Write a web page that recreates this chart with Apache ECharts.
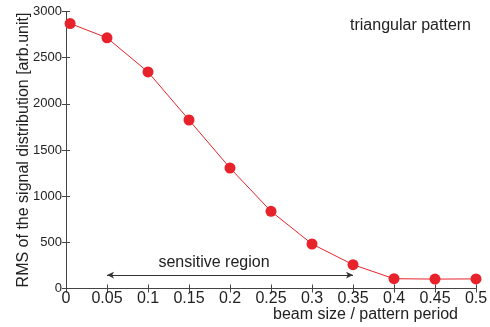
<!DOCTYPE html>
<html>
<head>
<meta charset="utf-8">
<script src="https://cdn.jsdelivr.net/npm/echarts@6/dist/echarts.min.js"></script>
<style>
  html, body { margin: 0; padding: 0; background: #fff; }
  #chart { width: 490px; height: 327px; }
</style>
</head>
<body>
<div id="chart"></div>
<script>
// beam size / pattern period
const beamSize = [0.005, 0.05, 0.1, 0.15, 0.2, 0.25, 0.3, 0.35, 0.4, 0.45, 0.5];
// RMS of the signal distribution
const rmsValues = [2870, 2715, 2345, 1825, 1305, 836, 482, 258, 106, 102, 104];
// sensitive region arrow (x range) and its height
const sensitiveRange = [0.05, 0.35];
const arrowLevel = 145;

const red = '#e8222a';
const axisColor = '#444';
const textColor = '#222';
const textFont = 'Liberation Sans, Arial, sans-serif';

const chart = echarts.init(document.getElementById('chart'));

const fmtX = (v) => String(+v.toFixed(2));
const fmtY = (v) => String(Math.round(v));

const option = {
  animation: false,
  grid: { left: 66, right: 14, top: 11.5, bottom: 38.5, containLabel: false, outerBoundsMode: 'none' },
  title: {
    text: 'triangular pattern',
    right: 14,
    top: 13,
    textStyle: { fontFamily: textFont, fontWeight: 'normal', fontSize: 16, color: textColor }
  },
  xAxis: [
    {
      type: 'value',
      min: 0,
      max: 0.5,
      interval: 0.05,
      name: 'beam size / pattern period',
      nameLocation: 'end',
      nameGap: 0,
      nameMoveOverlap: false,
      nameTextStyle: {
        fontFamily: textFont, fontSize: 16, color: textColor,
        align: 'right', verticalAlign: 'top', padding: [18, 18, 0, 0]
      },
      axisLine: { lineStyle: { color: axisColor, width: 1 } },
      axisTick: { inside: true, length: 4, lineStyle: { color: axisColor } },
      axisLabel: { formatter: fmtX, fontFamily: textFont, fontSize: 16, color: textColor, margin: 2 },
      splitLine: { show: false }
    },
    {
      type: 'value',
      position: 'top',
      min: 0,
      max: 0.5,
      interval: 0.05,
      axisLine: { lineStyle: { color: axisColor, width: 1 } },
      axisTick: { inside: true, length: 4, lineStyle: { color: axisColor } },
      axisLabel: { show: false },
      splitLine: { show: false }
    }
  ],
  yAxis: [
    {
      type: 'value',
      min: 0,
      max: 3000,
      interval: 500,
      name: 'RMS of the signal distribution [arb.unit]',
      nameLocation: 'middle',
      nameGap: 34,
      nameMoveOverlap: false,
      nameTextStyle: { fontFamily: textFont, fontSize: 16, color: textColor },
      axisLine: { show: true, lineStyle: { color: axisColor, width: 1 } },
      axisTick: { show: true, inside: true, length: 4, lineStyle: { color: axisColor } },
      axisLabel: { formatter: fmtY, fontFamily: textFont, fontSize: 13, color: textColor, margin: 4 },
      splitLine: { show: false }
    },
    {
      type: 'value',
      position: 'right',
      min: 0,
      max: 3000,
      interval: 500,
      axisLine: { show: true, lineStyle: { color: axisColor, width: 1 } },
      axisTick: { show: true, inside: true, length: 4, lineStyle: { color: axisColor } },
      axisLabel: { show: false },
      splitLine: { show: false }
    }
  ],
  series: [
    {
      type: 'line',
      xAxisIndex: 0,
      yAxisIndex: 0,
      data: beamSize.map((x, i) => [x, rmsValues[i]]),
      symbol: 'circle',
      symbolSize: 11,
      lineStyle: { color: red, width: 1 },
      itemStyle: { color: red },
      z: 3,
      markLine: {
        silent: true,
        symbol: ['arrow', 'arrow'],
        symbolSize: [5, 7],
        lineStyle: { color: '#333', width: 1, type: 'solid' },
        label: {
          show: true,
          position: 'middle',
          formatter: 'sensitive region',
          fontFamily: textFont,
          fontSize: 16,
          color: textColor,
          distance: 5,
          offset: [-16, 0]
        },
        data: [[
          { coord: [sensitiveRange[0], arrowLevel] },
          { coord: [sensitiveRange[1], arrowLevel] }
        ]]
      }
    }
  ]
};

chart.setOption(option);
</script>
</body>
</html>
